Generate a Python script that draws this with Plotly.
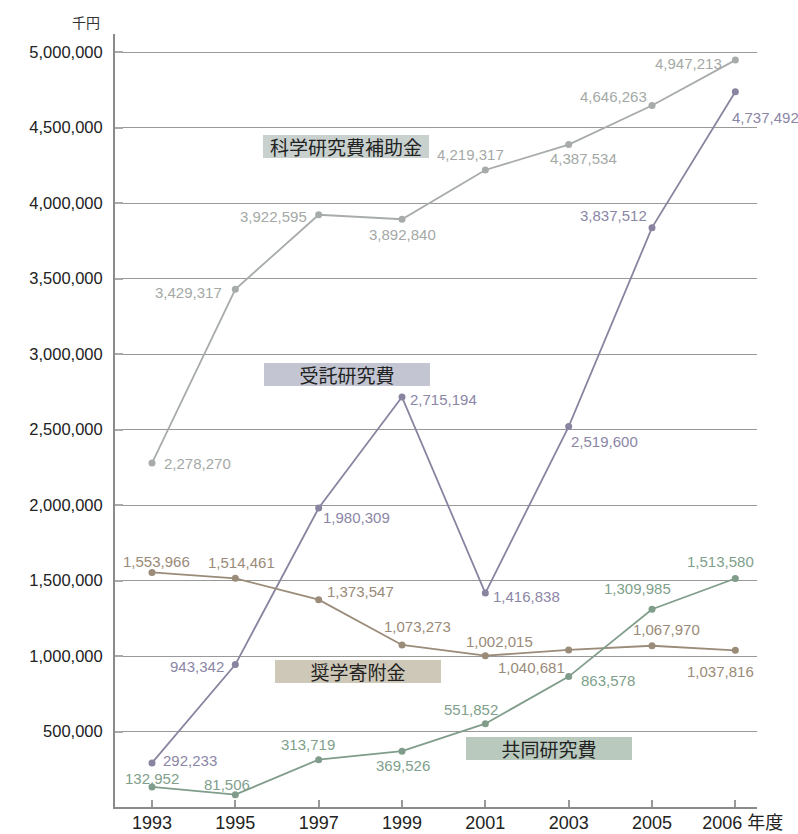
import plotly.graph_objects as go

# ---- data ----
years = ["1993", "1995", "1997", "1999", "2001", "2003", "2005", "2006"]
year_unit = "年度"
kaken = [2278270, 3429317, 3922595, 3892840, 4219317, 4387534, 4646263, 4947213]
jutaku = [292233, 943342, 1980309, 2715194, 1416838, 2519600, 3837512, 4737492]
shogaku = [1553966, 1514461, 1373547, 1073273, 1002015, 1040681, 1067970, 1037816]
kyodo = [132952, 81506, 313719, 369526, 551852, 863578, 1309985, 1513580]
series_names = ["科学研究費補助金", "受託研究費", "奨学寄附金", "共同研究費"]
y_ticks = [500000, 1000000, 1500000, 2000000, 2500000, 3000000, 3500000,
           4000000, 4500000, 5000000]
y_unit = "千円"

# ---- styling / label placement ----
W, H = 798, 834
L, R, T, B = 115, 41, 34, 27
PW, PH = W - L - R, H - T - B

line_colors = ["#a7aca9", "#8a84a0", "#9b8b79", "#7f9d8a"]
text_colors = ["#a4a9a6", "#8b86a6", "#9a8a78", "#80a08c"]
box_fills = ["#c9d1ce", "#c3c6d2", "#cec8b8", "#b9c9bd"]
box_centers = [(346, 146.5), (346.5, 374), (357.5, 671), (548.5, 748)]

# (xanchor, xshift, yshift) per point
offsets = [
    [("left", 12, 0), ("right", -13, -3), ("right", -12, -1.5), ("center", 0, -15),
     ("center", -15, 15), ("center", 15, -14), ("right", -5, 9), ("right", -13, -3)],
    [("left", 11, 2), ("right", -11, -2), ("left", 4, -9), ("left", 8, -2),
     ("left", 8, -3), ("left", 2, -15), ("right", -5, 12), ("left", -3, -26)],
    [("center", 4, 11), ("center", 6, 16), ("left", 8, 8), ("center", 15, 18),
     ("center", 14, 14), ("right", -4, -18), ("center", 14, 16), ("center", -15, -21)],
    [("center", 0, 8), ("center", -8, 10), ("center", -11, 15), ("center", 1, -14),
     ("center", -14, 14), ("left", 12, -4), ("center", -15, 21), ("center", -15, 17)],
]

all_series = [kaken, jutaku, shogaku, kyodo]
NUM_FONT = "Liberation Sans, Arial, sans-serif"
CJK_FONT = "Noto Sans CJK JP, Liberation Sans, sans-serif"
MIX_FONT = "Liberation Sans, Noto Sans CJK JP, sans-serif"

fig = go.Figure()
for vals, name, lc in zip(all_series, series_names, line_colors):
    fig.add_trace(go.Scatter(
        x=list(range(len(years))), y=vals, mode="lines+markers", name=name,
        line=dict(color=lc, width=1.8),
        marker=dict(color=lc, size=7),
        hoverinfo="skip",
    ))

annotations = []
for vals, offs, tc in zip(all_series, offsets, text_colors):
    for i, (v, (anc, dx, dy)) in enumerate(zip(vals, offs)):
        annotations.append(dict(
            x=i, y=v, xref="x", yref="y", text=f"{v:,}", showarrow=False,
            xanchor=anc, yanchor="middle", xshift=dx, yshift=dy,
            borderpad=0, borderwidth=0,
            font=dict(family=NUM_FONT, size=15, color=tc),
        ))

for name, fill, (cx, cy) in zip(series_names, box_fills, box_centers):
    annotations.append(dict(
        x=(cx - L) / PW, y=(H - B - cy) / PH, xref="paper", yref="paper",
        text=name, showarrow=False, xanchor="center", yanchor="middle",
        width=166, height=23, bgcolor=fill, borderpad=0, borderwidth=0,
        align="center", valign="middle",
        font=dict(family=CJK_FONT, size=19, color="#222222"),
    ))

annotations.append(dict(
    x=(102 - L) / PW, y=(H - B - 22) / PH, xref="paper", yref="paper",
    text=y_unit, showarrow=False, xanchor="right", yanchor="middle",
    font=dict(family=CJK_FONT, size=14, color="#333333"),
))

ticktext = years[:-1] + ["\u00a0\u00a0\u00a0" + years[-1] + "\u00a0" + year_unit]

fig.update_layout(
    width=W, height=H,
    margin=dict(l=L, r=R, t=T, b=B, autoexpand=False),
    paper_bgcolor="white", plot_bgcolor="white",
    showlegend=False,
    annotations=annotations,
    xaxis=dict(
        range=[-0.444, 7.26], automargin=False,
        tickmode="array", tickvals=list(range(len(years))), ticktext=ticktext,
        showline=True, linecolor="#8a8a8a", linewidth=2,
        ticks="inside", ticklen=7, tickcolor="#999999", tickwidth=1.5,
        showgrid=False, zeroline=False,
        tickfont=dict(family=MIX_FONT, size=18, color="#222222"),
        ticklabelstandoff=-2,
    ),
    yaxis=dict(
        range=[0, 5120000], automargin=False,
        tickmode="array", tickvals=y_ticks, tickformat=",d",
        showline=True, linecolor="#8a8a8a", linewidth=2,
        ticks="inside", ticklen=8, tickcolor="#aaaaaa", tickwidth=1.5,
        showgrid=True, gridcolor="#999999", gridwidth=1,
        zeroline=False,
        tickfont=dict(family=NUM_FONT, size=16.5, color="#222222"),
        ticklabelstandoff=7,
    ),
)

fig.write_html("out.html", config={"displayModeBar": False},
               post_script="document.body.style.margin='0';")
